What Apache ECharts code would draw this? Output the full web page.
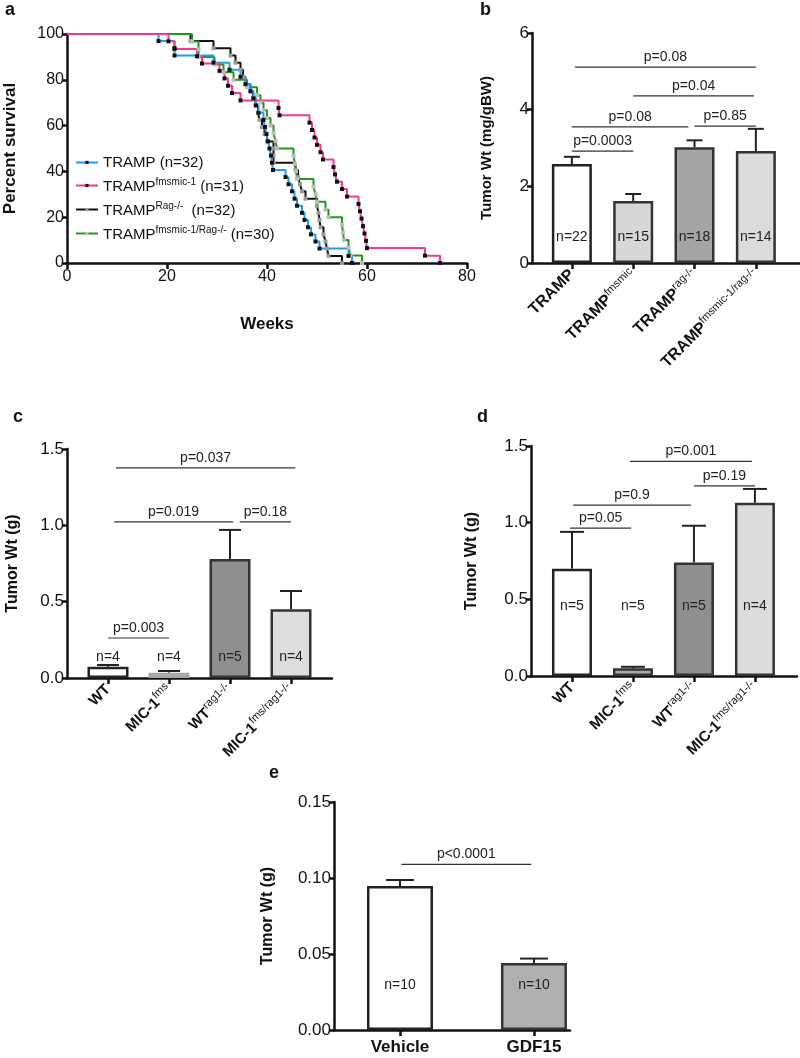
<!DOCTYPE html>
<html>
<head>
<meta charset="utf-8">
<script src="https://cdn.jsdelivr.net/npm/echarts@6/dist/echarts.min.js"></script>
<style>
  html, body { margin: 0; padding: 0; background: #fff; }
  #chart { width: 800px; height: 1058px; }
</style>
</head>
<body>
<div id="chart"></div>
<script>
// ---- panel a: survival (weeks, percent survival) ----
const trampWeeks = [18.3, 21.5, 21.5, 29.3, 32.5, 34.7, 35.7, 36.7, 37.3, 37.8, 38.3, 39.3, 39.6, 39.9, 40.2, 40.5, 40.8, 41, 41.2, 43.7, 44.3, 45, 45.5, 46, 47, 47.5, 48.2, 48.8, 49.7, 50.5, 56.3, 57];
const trampSurv = [96.9, 93.8, 90.6, 87.5, 84.4, 81.3, 78.1, 75.0, 71.9, 68.8, 65.6, 62.5, 59.4, 56.3, 53.1, 50.0, 46.9, 43.8, 40.6, 37.5, 34.4, 31.3, 28.1, 25.0, 21.9, 18.8, 15.6, 12.5, 9.4, 6.3, 3.1, 0];
const fmsWeeks = [20.3, 21.5, 26, 27, 30.5, 31.5, 32.2, 33, 34.7, 42.3, 42.5, 48.5, 49, 49.5, 50, 50.7, 51.2, 53.3, 53.6, 54, 55, 56, 58.3, 58.6, 58.9, 59.2, 59.5, 59.8, 60, 71.6, 74.6];
const fmsSurv = [96.8, 93.5, 90.3, 87.1, 83.9, 80.6, 77.4, 74.2, 71.0, 67.7, 64.5, 61.3, 58.1, 54.8, 51.6, 48.4, 45.2, 41.9, 38.7, 35.5, 32.3, 29.0, 25.8, 22.6, 19.4, 16.1, 12.9, 9.7, 6.5, 3.2, 0];
const ragWeeks = [24.7, 29.3, 32.7, 33.7, 34.7, 35.2, 35.7, 36.7, 37.2, 37.7, 38.2, 38.5, 39, 39.5, 40, 41.3, 41.3, 41.3, 45.7, 46.2, 46.6, 47, 47.7, 50, 50.3, 50.5, 50.7, 51.3, 51.7, 52, 52.3, 55];
const ragSurv = [96.9, 93.8, 90.6, 87.5, 84.4, 81.3, 78.1, 75.0, 71.9, 68.8, 65.6, 62.5, 59.4, 56.3, 53.1, 50.0, 46.9, 43.8, 40.6, 37.5, 34.4, 31.3, 28.1, 25.0, 21.9, 18.8, 15.6, 12.5, 9.4, 6.3, 3.1, 0];
const dblWeeks = [25, 26.3, 26.3, 29.5, 31.3, 33.3, 36, 38, 38.7, 39.3, 40, 40.7, 41.3, 41.7, 42, 45.3, 45.6, 45.8, 46, 49.3, 49.7, 50, 51.7, 52.3, 55, 55.2, 55.4, 56.3, 56.7, 59];
const dblSurv = [96.7, 93.3, 90.0, 86.7, 83.3, 80.0, 76.7, 73.3, 70.0, 66.7, 63.3, 60.0, 56.7, 53.3, 50.0, 46.7, 43.3, 40.0, 36.7, 33.3, 30.0, 26.7, 23.3, 20.0, 16.7, 13.3, 10.0, 6.7, 3.3, 0];
const survNames = ['TRAMP (n=32)', 'TRAMPfmsmic-1 (n=31)', 'TRAMPRag-/- (n=32)', 'TRAMPfmsmic-1/Rag-/- (n=30)'];

// ---- panel b ----
const bCats = ['{m|TRAMP}', '{m|TRAMP}{s|fmsmic}', '{m|TRAMP}{s|rag-/-}', '{m|TRAMP}{s|fmsmic-1/rag-/-}'];
const bMean = [2.58, 1.62, 3.02, 2.92];
const bUpper = [2.77, 1.80, 3.20, 3.50];
const bN = ['n=22', 'n=15', 'n=18', 'n=14'];
const bPairs = [[0, 1, 2.92], [0, 1.9, 3.55], [2, 3, 3.57], [1, 2.97, 4.36], [0.05, 3, 5.11]];
const bPText = ['p=0.0003', 'p=0.08', 'p=0.85', 'p=0.04', 'p=0.08'];

// ---- panel c ----
const cCats = ['{m|WT}', '{m|MIC-1}{s|fms}', '{m|WT}{s|rag1-/-}', '{m|MIC-1}{s|fms/rag1-/-}'];
const cMean = [0.074, 0.035, 0.78, 0.45];
const cUpper = [0.085, 0.046, 0.97, 0.57];
const cN = ['n=4', 'n=4', 'n=5', 'n=4'];
const cPairs = [[0, 1, 0.262], [0.1, 2.05, 1.022], [2.16, 3, 1.022], [0.13, 3.07, 1.376]];
const cPText = ['p=0.003', 'p=0.019', 'p=0.18', 'p=0.037'];

// ---- panel d ----
const dCats = cCats;
const dMean = [0.70, 0.05, 0.74, 1.13];
const dUpper = [0.94, 0.06, 0.98, 1.22];
const dN = ['n=5', 'n=5', 'n=5', 'n=4'];
const dPairs = [[-0.03, 0.97, 0.965], [0.02, 1.95, 1.115], [2, 3, 1.24], [0.95, 2.95, 1.40]];
const dPText = ['p=0.05', 'p=0.9', 'p=0.19', 'p=0.001'];

// ---- panel e ----
const eCats = ['{m|Vehicle}', '{m|GDF15}'];
const eMean = [0.0947, 0.044];
const eUpper = [0.0987, 0.047];
const eN = ['n=10', 'n=10'];
const ePairs = [[0.01, 0.98, 0.109]];
const ePText = ['p<0.0001'];

const FONT = '"Liberation Sans", Arial, Helvetica, sans-serif';
const INK = '#111';
const AX = { color: INK, width: 2.5 };

const chart = echarts.init(document.getElementById('chart'));

function yAxisDef(gi, min, max, interval, digits, name, gap, nameSize, labelSize) {
  return {
    type: 'value', gridIndex: gi, min: min, max: max, interval: interval,
    name: name, nameLocation: 'middle', nameGap: gap,
    nameTextStyle: { fontWeight: 'bold', fontSize: nameSize, color: INK, fontFamily: FONT },
    axisLine: { show: true, onZero: false, lineStyle: AX },
    axisTick: { show: true, length: 5, lineStyle: AX },
    axisLabel: { fontSize: labelSize, color: INK, margin: 3, fontFamily: FONT,
      formatter: v => v.toFixed(digits) },
    splitLine: { show: false }
  };
}

function catXAxis(gi, min, max, cats, rotate, mSize, sSize) {
  const ticks = cats.map((c, i) => i);
  return {
    type: 'value', gridIndex: gi, min: min, max: max,
    axisLine: { show: true, onZero: false, lineStyle: AX },
    axisTick: { show: true, length: 6, lineStyle: AX, customValues: ticks },
    axisLabel: {
      customValues: ticks, rotate: rotate, margin: 9,
      formatter: v => cats[Math.round(v)],
      rich: {
        m: { fontSize: mSize, fontWeight: 'bold', color: INK, fontFamily: FONT, verticalAlign: 'bottom' },
        s: { fontSize: sSize, color: INK, fontFamily: FONT, verticalAlign: 'bottom', padding: [0, 0, 7, 0] }
      }
    },
    splitLine: { show: false }
  };
}

function barSeries(gi, mean, upper, nText, colors, borders, barWidth, capHalf, labelDist, pairs, pText) {
  const bars = {
    type: 'bar', xAxisIndex: gi, yAxisIndex: gi, barWidth: barWidth, z: 3,
    data: mean.map((m, i) => ({
      value: [i, m],
      itemStyle: { color: colors[i], borderColor: borders[i], borderWidth: 2.5 }
    })),
    label: {
      show: true, position: 'insideBottom', distance: labelDist,
      formatter: p => nText[p.dataIndex], fontSize: 14, color: '#222', fontFamily: FONT
    }
  };
  const errs = {
    type: 'custom', xAxisIndex: gi, yAxisIndex: gi, z: 2,
    encode: { x: 0, y: [1, 2] },
    data: mean.map((m, i) => [i, m, upper[i]]),
    renderItem: (params, api) => {
      const a = api.coord([api.value(0), api.value(1)]);
      const b = api.coord([api.value(0), api.value(2)]);
      const st = { stroke: '#222', lineWidth: 2 };
      return { type: 'group', children: [
        { type: 'line', shape: { x1: a[0], y1: a[1], x2: b[0], y2: b[1] }, style: st },
        { type: 'line', shape: { x1: b[0] - capHalf, y1: b[1], x2: b[0] + capHalf, y2: b[1] }, style: st }
      ] };
    }
  };
  const brackets = {
    type: 'custom', xAxisIndex: gi, yAxisIndex: gi, z: 4,
    encode: { x: [0, 1], y: 2 },
    data: pairs,
    renderItem: (params, api) => {
      const a = api.coord([api.value(0), api.value(2)]);
      const b = api.coord([api.value(1), api.value(2)]);
      return { type: 'group', children: [
        { type: 'line', shape: { x1: a[0], y1: a[1], x2: b[0], y2: b[1] }, style: { stroke: '#333', lineWidth: 1.2 } },
        { type: 'text', x: (a[0] + b[0]) / 2, y: a[1] - 3,
          style: { text: pText[params.dataIndex], fontSize: 14, fill: '#222', fontFamily: FONT,
            align: 'center', verticalAlign: 'bottom' } }
      ] };
    }
  };
  return [bars, errs, brackets];
}

function survSeries(name, weeks, surv, color, marker) {
  const data = [{ value: [0, 100], symbol: 'none' }].concat(weeks.map((w, i) => [w, surv[i]]));
  return {
    type: 'line', name: name, xAxisIndex: 0, yAxisIndex: 0, step: 'end',
    data: data, symbol: 'rect', symbolSize: 4,
    lineStyle: { color: color, width: 2 }, itemStyle: { color: marker }
  };
}

const legendText = {
  'TRAMP (n=32)': '{t|TRAMP (n=32)}',
  'TRAMPfmsmic-1 (n=31)': '{t|TRAMP}{s|fmsmic-1}{t| (n=31)}',
  'TRAMPRag-/- (n=32)': '{t|TRAMP}{s|Rag-/-}{t|  (n=32)}',
  'TRAMPfmsmic-1/Rag-/- (n=30)': '{t|TRAMP}{s|fmsmic-1/Rag-/-}{t| (n=30)}'
};

const letter = (t, x, y) => ({ type: 'text', left: x, top: y,
  style: { text: t, fontSize: 18, fontWeight: 'bold', fill: INK, fontFamily: FONT } });

chart.setOption({
  animation: false,
  textStyle: { fontFamily: FONT },
  graphic: [letter('a', 5, 1), letter('b', 480, 1), letter('c', 13, 408), letter('d', 477, 408), letter('e', 269, 764)],
  legend: {
    data: survNames, orient: 'vertical', left: 70, top: 150,
    itemWidth: 22, itemHeight: 4, itemGap: 7,
    formatter: n => legendText[n],
    textStyle: {
      rich: {
        t: { fontSize: 15, color: INK, fontFamily: FONT, verticalAlign: 'bottom' },
        s: { fontSize: 10, color: INK, fontFamily: FONT, verticalAlign: 'bottom', padding: [0, 0, 7, 0] }
      }
    }
  },
  grid: [
    { left: 67, top: 34, width: 400, height: 229 },
    { left: 532, top: 33, width: 268, height: 230 },
    { left: 67, top: 449, width: 265, height: 229 },
    { left: 531, top: 446, width: 266, height: 230 },
    { left: 334, top: 802, width: 236, height: 228 }
  ],
  xAxis: [
    {
      type: 'value', gridIndex: 0, min: 0, max: 80, interval: 20,
      name: 'Weeks', nameLocation: 'middle', nameGap: 53,
      nameTextStyle: { fontWeight: 'bold', fontSize: 17, color: INK, fontFamily: FONT },
      axisLine: { show: true, onZero: false, lineStyle: AX },
      axisTick: { show: true, length: 6, lineStyle: AX },
      axisLabel: { fontSize: 16, color: INK, margin: 6, fontFamily: FONT },
      splitLine: { show: false }
    },
    catXAxis(1, -0.65, 3.72, bCats, 45, 16, 11),
    catXAxis(2, -0.672, 3.672, cCats, 45, 15, 11),
    catXAxis(3, -0.672, 3.69, dCats, 45, 15, 11),
    catXAxis(4, -0.4925, 1.269, eCats, 0, 17, 11)
  ],
  yAxis: [
    yAxisDef(0, 0, 100, 20, 0, 'Percent survival', 48, 17, 16),
    yAxisDef(1, 0, 6, 2, 0, 'Tumor Wt (mg/gBW)', 38, 15, 17),
    yAxisDef(2, 0, 1.5, 0.5, 1, 'Tumor Wt (g)', 46, 16, 17),
    yAxisDef(3, 0, 1.5, 0.5, 1, 'Tumor Wt (g)', 51, 16, 17),
    yAxisDef(4, 0, 0.15, 0.05, 2, 'Tumor Wt (g)', 58, 16, 17)
  ],
  series: [
    survSeries(survNames[2], ragWeeks, ragSurv, '#111111', '#9a9a9a'),
    survSeries(survNames[3], dblWeeks, dblSurv, '#1f9a1f', '#bdbdbd'),
    survSeries(survNames[0], trampWeeks, trampSurv, '#1e9cf0', '#111111'),
    survSeries(survNames[1], fmsWeeks, fmsSurv, '#f4388f', '#111111')
  ]
    .concat(barSeries(1, bMean, bUpper, bN, ['#ffffff', '#d8d8d8', '#a5a5a5', '#dcdcdc'],
      ['#222', '#333', '#333', '#333'], 40, 8, 19, bPairs, bPText))
    .concat(barSeries(2, cMean, cUpper, cN, ['#ffffff', '#bdbdbd', '#8f8f8f', '#dedede'],
      ['#222', '#a8a8a8', '#333', '#333'], 41, 11, 14, cPairs, cPText))
    .concat(barSeries(3, dMean, dUpper, dN, ['#ffffff', '#a9a9a9', '#8f8f8f', '#dcdcdc'],
      ['#222', '#333', '#333', '#333'], 40, 12, 63, dPairs, dPText))
    .concat(barSeries(4, eMean, eUpper, eN, ['#ffffff', '#b0b0b0'],
      ['#222', '#333'], 66, 14, 38, ePairs, ePText))
});
</script>
</body>
</html>
